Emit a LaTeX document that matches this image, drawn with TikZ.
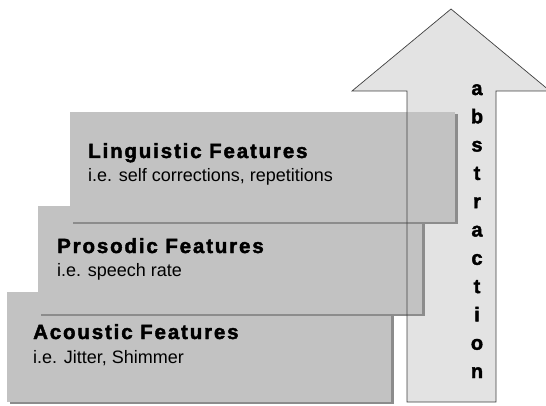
\documentclass[tikz,border=0pt]{standalone}
\usepackage{fontspec}
\setmainfont{Liberation Sans}
\begin{document}
\begin{tikzpicture}[x=1pt,y=-1pt,
  boxfill/.style={fill=black!24, draw=none},
  boxshadow/.style={fill=black!45, draw=none},
  title/.style={anchor=base west, inner sep=0pt, font=\fontsize{20.5}{24}\selectfont\bfseries\addfontfeature{LetterSpace=9,FakeBold=2}},
  sub/.style={anchor=base west, inner sep=0pt, font=\fontsize{18}{21}\selectfont},
  letter/.style={anchor=base, inner sep=0pt, font=\fontsize{20}{22}\selectfont\bfseries\addfontfeature{FakeBold=2}}]
\useasboundingbox (0,0) rectangle (546,406);
\begin{scope}
\clip (0,0) rectangle (546,406);
% arrow fill
\fill[black!11] (407,402) -- (407,91) -- (352,91) -- (451,9) -- (550,91) -- (496,91) -- (496,402) -- cycle;
% acoustic
\fill[boxshadow] (10,294) rectangle (394,404);
\node[boxfill, minimum width=384pt, minimum height=110pt, anchor=north west, inner sep=0pt] (acbox) at (7,292) {};
% prosodic
\fill[boxshadow] (41,208) rectangle (425,316);
\node[boxfill, minimum width=384pt, minimum height=108pt, anchor=north west, inner sep=0pt] (prbox) at (38,206) {};
% linguistic
\fill[boxshadow] (73,114) rectangle (458,224);
\node[boxfill, minimum width=385pt, minimum height=110pt, anchor=north west, inner sep=0pt] (libox) at (70,112) {};
% arrow outline
\draw[black!75, line width=0.7pt] (407,402) -- (407,91) -- (352,91) -- (451,9) -- (550,91) -- (496,91) -- (496,402) -- cycle;
\end{scope}
% texts
\node[title] (lit) at (88,158) {Linguistic Features};
\node[sub] (lis) at (88,182) {i.e. self corrections, repetitions};
\node[title] (prt) at (57,253) {Prosodic Features};
\node[sub] (prs) at (57,276) {i.e. speech rate};
\node[title] (act) at (33,339) {Acoustic Features};
\node[sub] (acs) at (33,363) {i.e. Jitter, Shimmer};
% abstraction
\foreach \c [count=\i from 0] in {a,b,s,t,r,a,c,t,i,o,n} {
  \node[letter] (ab\i) at (477,95+28.3*\i) {\c};
}
\end{tikzpicture}
\end{document}
